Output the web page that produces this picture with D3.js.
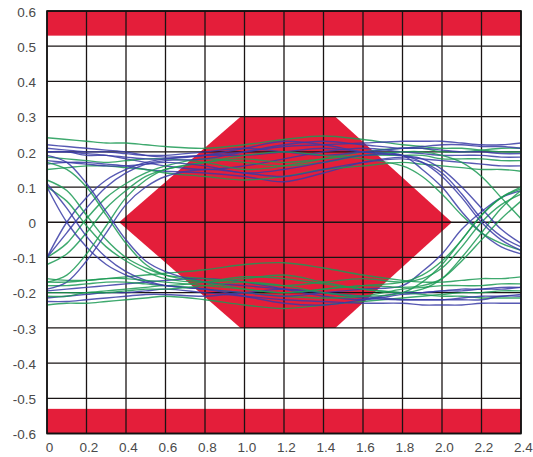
<!DOCTYPE html>
<html><head><meta charset="utf-8">
<script src="https://cdn.jsdelivr.net/npm/d3@7"></script>
<style>
body{margin:0;background:#fff;}
text{font-family:"Liberation Sans",Arial,sans-serif;}
</style></head>
<body><svg id="c" width="533" height="457"></svg>
<script>
// ---- data ----
const xTicks = [0,0.2,0.4,0.6,0.8,1.0,1.2,1.4,1.6,1.8,2.0,2.2,2.4];
const xTickLabels = ["0","0.2","0.4","0.6","0.8","1.0","1.2","1.4","1.6","1.8","2.0","2.2","2.4"];
const yTicks = [0.6,0.5,0.4,0.3,0.2,0.1,0,-0.1,-0.2,-0.3,-0.4,-0.5,-0.6];
const yTickLabels = ["0.6","0.5","0.4","0.3","0.2","0.1","0","-0.1","-0.2","-0.3","-0.4","-0.5","-0.6"];
// mask polygon (time, amplitude)
const maskHex = [[0.365,0],[0.98,0.3],[1.46,0.3],[2.05,0],[1.46,-0.3],[0.98,-0.3]];
const maskTop = [0.53,0.6];
const maskBottom = [-0.6,-0.53];
// sample times for each trace
const sampleX = [0,0.1,0.2,0.3,0.4,0.5,0.6,0.8,1.0,1.2,1.4,1.6,1.8,1.9,2.0,2.1,2.2,2.3,2.4];
// traces: colour group + amplitude at each sample time
const traceColor = ["g","b","b","g","b","g","b",  "g","b","b","g","g","b","g",
  "b","g","b","g",  "b","g","b","g",  "b","b","g","g",  "b","g","g","b"];
const traceValues = [
 [0.24,0.235,0.23,0.225,0.225,0.22,0.215,0.21,0.22,0.235,0.245,0.235,0.22,0.215,0.21,0.21,0.205,0.2,0.2],
 [0.22,0.215,0.21,0.205,0.2,0.19,0.185,0.19,0.2,0.215,0.22,0.225,0.23,0.23,0.23,0.225,0.22,0.22,0.225],
 [0.2,0.2,0.195,0.19,0.18,0.17,0.16,0.15,0.16,0.18,0.2,0.21,0.2,0.195,0.19,0.19,0.19,0.185,0.185],
 [0.185,0.18,0.175,0.17,0.175,0.18,0.18,0.17,0.15,0.16,0.18,0.2,0.21,0.21,0.2,0.2,0.205,0.21,0.21],
 [0.165,0.17,0.17,0.165,0.16,0.15,0.145,0.14,0.13,0.115,0.14,0.17,0.185,0.18,0.175,0.17,0.165,0.16,0.16],
 [0.15,0.155,0.16,0.16,0.155,0.15,0.14,0.13,0.12,0.13,0.15,0.16,0.17,0.165,0.16,0.155,0.15,0.15,0.145],
 [0.21,0.205,0.2,0.2,0.195,0.19,0.19,0.2,0.21,0.2,0.19,0.2,0.21,0.215,0.22,0.22,0.215,0.215,0.21],
 [-0.235,-0.23,-0.23,-0.225,-0.22,-0.215,-0.21,-0.22,-0.235,-0.245,-0.235,-0.225,-0.215,-0.21,-0.205,-0.2,-0.2,-0.195,-0.195],
 [-0.215,-0.21,-0.205,-0.2,-0.2,-0.195,-0.19,-0.2,-0.21,-0.22,-0.225,-0.23,-0.23,-0.235,-0.235,-0.235,-0.23,-0.23,-0.23],
 [-0.195,-0.19,-0.185,-0.18,-0.175,-0.17,-0.165,-0.16,-0.17,-0.19,-0.21,-0.22,-0.205,-0.2,-0.195,-0.195,-0.19,-0.19,-0.185],
 [-0.18,-0.18,-0.175,-0.17,-0.17,-0.175,-0.18,-0.17,-0.155,-0.16,-0.175,-0.19,-0.2,-0.205,-0.21,-0.21,-0.215,-0.215,-0.215],
 [-0.16,-0.165,-0.165,-0.16,-0.155,-0.15,-0.145,-0.135,-0.12,-0.115,-0.13,-0.15,-0.165,-0.17,-0.17,-0.165,-0.16,-0.16,-0.155],
 [-0.225,-0.225,-0.22,-0.215,-0.21,-0.205,-0.205,-0.21,-0.2,-0.19,-0.2,-0.215,-0.22,-0.22,-0.22,-0.215,-0.21,-0.21,-0.205],
 [-0.2,-0.2,-0.2,-0.195,-0.19,-0.185,-0.18,-0.19,-0.2,-0.21,-0.215,-0.21,-0.19,-0.185,-0.18,-0.18,-0.18,-0.175,-0.175],
 [-0.1,0.0,0.07,0.12,0.15,0.17,0.18,0.19,0.19,0.2,0.21,0.2,0.19,0.15,0.1,0.03,-0.03,-0.07,-0.09],
 [-0.1,-0.06,0.01,0.07,0.11,0.14,0.16,0.18,0.17,0.16,0.17,0.19,0.2,0.2,0.19,0.17,0.13,0.07,0.01],
 [-0.1,-0.03,0.04,0.1,0.14,0.165,0.175,0.18,0.2,0.22,0.23,0.22,0.21,0.21,0.205,0.2,0.2,0.195,0.195],
 [-0.12,-0.09,-0.03,0.04,0.09,0.13,0.15,0.17,0.19,0.2,0.19,0.18,0.16,0.13,0.08,0.02,-0.03,-0.06,-0.08],
 [0.1,0.0,-0.07,-0.12,-0.15,-0.17,-0.18,-0.19,-0.2,-0.21,-0.2,-0.19,-0.18,-0.14,-0.09,-0.02,0.03,0.07,0.09],
 [0.1,0.06,-0.01,-0.07,-0.11,-0.14,-0.16,-0.17,-0.16,-0.15,-0.17,-0.19,-0.2,-0.19,-0.16,-0.1,-0.03,0.04,0.09],
 [0.11,0.04,-0.04,-0.1,-0.14,-0.165,-0.18,-0.19,-0.21,-0.23,-0.235,-0.22,-0.2,-0.2,-0.195,-0.19,-0.19,-0.185,-0.185],
 [0.12,0.09,0.02,-0.05,-0.1,-0.13,-0.15,-0.16,-0.17,-0.18,-0.17,-0.16,-0.17,-0.16,-0.13,-0.07,0.0,0.05,0.08],
 [0.19,0.17,0.11,0.03,-0.05,-0.11,-0.14,-0.17,-0.18,-0.19,-0.2,-0.21,-0.22,-0.22,-0.22,-0.22,-0.22,-0.21,-0.21],
 [-0.19,-0.17,-0.11,-0.03,0.05,0.1,0.13,0.15,0.14,0.13,0.15,0.17,0.18,0.17,0.14,0.08,0.01,-0.04,-0.07],
 [0.17,0.15,0.1,0.02,-0.06,-0.12,-0.15,-0.17,-0.19,-0.2,-0.19,-0.18,-0.17,-0.15,-0.11,-0.05,0.02,0.07,0.1],
 [-0.17,-0.15,-0.09,-0.01,0.07,0.12,0.15,0.17,0.18,0.17,0.18,0.19,0.19,0.19,0.18,0.18,0.18,0.175,0.175],
 [0.2,0.2,0.19,0.19,0.185,0.18,0.18,0.19,0.21,0.23,0.22,0.2,0.19,0.18,0.15,0.1,0.04,-0.02,-0.06],
 [-0.21,-0.21,-0.2,-0.2,-0.195,-0.19,-0.19,-0.18,-0.17,-0.18,-0.2,-0.21,-0.2,-0.17,-0.12,-0.05,0.02,0.07,0.095],
 [-0.17,-0.17,-0.165,-0.16,-0.16,-0.165,-0.17,-0.18,-0.19,-0.2,-0.19,-0.18,-0.185,-0.18,-0.16,-0.11,-0.05,0.01,0.06],
 [0.175,0.17,0.165,0.16,0.16,0.165,0.17,0.16,0.14,0.15,0.17,0.19,0.19,0.17,0.13,0.07,0.0,-0.05,-0.08]
];
const colors = {b:"#3a3ca6", g:"#1c9a55", mask:"#e41e3a"};

// ---- chart ----
const L=47, R=521, T=11, B=433.5;
const svg = d3.select("#c");
const x = d3.scaleLinear().domain([0,2.4]).range([L,R]);
const y = d3.scaleLinear().domain([-0.6,0.6]).range([B,T]);

svg.append("rect").attr("x",L).attr("y",T).attr("width",R-L).attr("height",B-T).attr("fill","#fff");

// mask
svg.append("polygon").attr("points", maskHex.map(p=>x(p[0])+","+y(p[1])).join(" ")).attr("fill",colors.mask);
[maskTop,maskBottom].forEach(m=>{
  svg.append("rect").attr("x",x(0)).attr("width",x(2.4)-x(0))
    .attr("y",y(m[1])).attr("height",y(m[0])-y(m[1])).attr("fill",colors.mask);
});

// grid
const g = svg.append("g").attr("stroke","#1a1414").attr("stroke-width",1.3);
xTicks.forEach(v=>g.append("line").attr("x1",x(v)).attr("x2",x(v)).attr("y1",T).attr("y2",B));
yTicks.forEach(v=>g.append("line").attr("y1",y(v)).attr("y2",y(v)).attr("x1",L).attr("x2",R));

// traces
const line = d3.line().x((d,i)=>x(sampleX[i])).y(d=>y(d)).curve(d3.curveCatmullRom.alpha(0.5));
const tg = svg.append("g").attr("fill","none").attr("stroke-width",1.4).attr("stroke-opacity",0.85);
traceValues.forEach((vals,i)=>{
  tg.append("path").attr("d",line(vals)).attr("stroke",colors[traceColor[i]]);
});

// frame
svg.append("rect").attr("x",L).attr("y",T).attr("width",R-L).attr("height",B-T)
  .attr("fill","none").attr("stroke","#111").attr("stroke-width",1.6);

// axis labels
const ax = d3.axisBottom(x).tickValues(xTicks).tickFormat((d,i)=>xTickLabels[i]).tickSize(0).tickPadding(9);
const axG = svg.append("g").attr("transform",`translate(2,${B})`).call(ax);
axG.select(".domain").remove();
axG.selectAll("text").attr("font-size",13.5).attr("fill","#4a4a4a").attr("font-family","Liberation Sans, Arial, sans-serif");
const ay = d3.axisLeft(y).tickValues(yTicks).tickFormat((d,i)=>yTickLabels[i]).tickSize(0).tickPadding(11);
const ayG = svg.append("g").attr("transform",`translate(${L},1)`).call(ay);
ayG.select(".domain").remove();
ayG.selectAll("text").attr("font-size",13.5).attr("fill","#4a4a4a").attr("font-family","Liberation Sans, Arial, sans-serif");
</script></body></html>
